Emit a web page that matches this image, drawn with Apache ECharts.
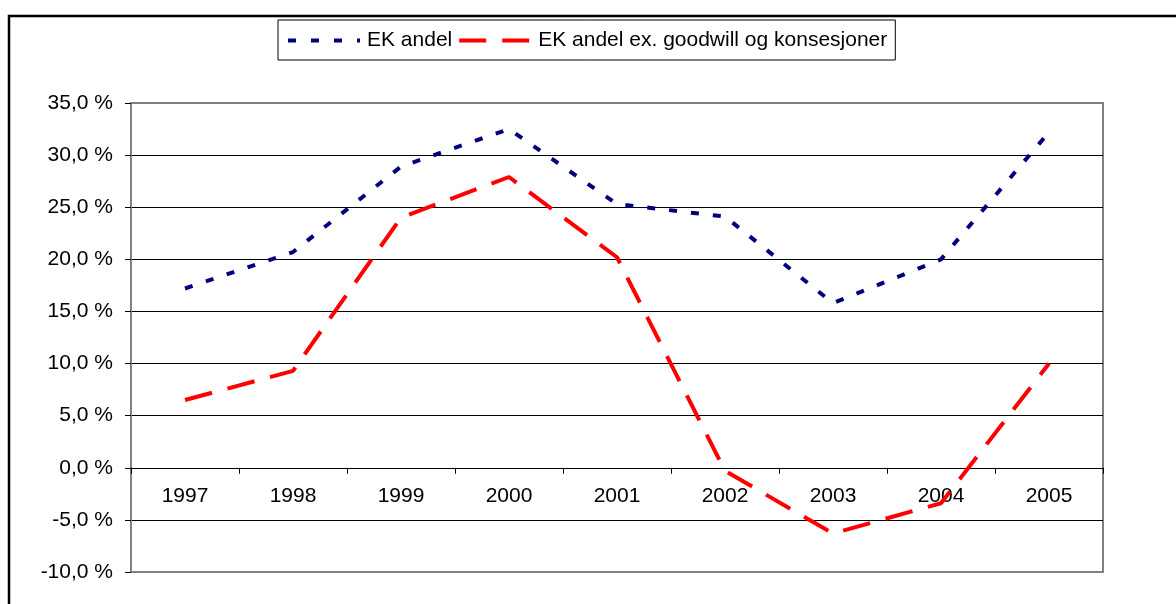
<!DOCTYPE html>
<html>
<head>
<meta charset="utf-8">
<script src="https://cdn.jsdelivr.net/npm/echarts@6/dist/echarts.min.js"></script>
<style>
  html, body { margin: 0; padding: 0; background: #fff; }
  #chart { width: 1176px; height: 604px; }
</style>
</head>
<body>
<div id="chart"></div>
<script>
// years on the x axis
const years = ['1997', '1998', '1999', '2000', '2001', '2002', '2003', '2004', '2005']
// equity share, percent
const ekAndel = [17.2, 20.7, 28.9, 32.5, 25.3, 24.1, 15.8, 20.0, 32.2]
// equity share excl. goodwill and concessions, percent
const ekAndelEx = [6.5, 9.3, 24.0, 27.9, 20.2, -0.3, -6.3, -3.4, 10.0]

const seriesNames = ['EK andel', 'EK andel ex. goodwill og konsesjoner']

const chart = echarts.init(document.getElementById('chart'))
const font = "'Liberation Sans', Arial, sans-serif"

const option = {
  animation: false,
  backgroundColor: '#fff',
  textStyle: { fontFamily: font, color: '#000' },
  graphic: [
    {
      type: 'rect',
      shape: { x: 9, y: 16, width: 1200, height: 620 },
      style: { fill: 'none', stroke: '#000', lineWidth: 2.5 },
      silent: true,
      z: -1
    }
  ],
  legend: {
    left: 278,
    top: 20,
    padding: [10, 8, 9, 8],
    itemGap: 5,
    itemWidth: 72,
    itemHeight: 21,
    borderColor: '#000',
    borderWidth: 1,
    itemStyle: { opacity: 0 },
    textStyle: { fontSize: 21, color: '#000', fontFamily: font, padding: [0, 0, 0, 2] },
    data: [
      { name: seriesNames[0], lineStyle: { width: 4, type: [8, 15] } },
      { name: seriesNames[1], lineStyle: { width: 4, type: [27, 16] } }
    ]
  },
  grid: {
    show: true,
    left: 131,
    right: 73,
    top: 103,
    bottom: 32,
    borderColor: '#808080',
    borderWidth: 2,
    containLabel: false
  },
  xAxis: {
    type: 'category',
    data: years,
    position: 'bottom',
    offset: -104.2,
    axisLine: { onZero: false, lineStyle: { color: '#000', width: 1 } },
    axisTick: { show: true, length: 6, lineStyle: { color: '#000' } },
    axisLabel: { fontSize: 21, color: '#000', margin: 18, fontFamily: font }
  },
  yAxis: {
    type: 'value',
    min: -10,
    max: 35,
    interval: 5,
    axisLine: { show: true, lineStyle: { color: '#808080', width: 2 } },
    axisTick: { show: true, length: 6, lineStyle: { color: '#000' } },
    axisLabel: {
      fontSize: 21,
      color: '#000',
      margin: 18,
      fontFamily: font,
      formatter: v => v.toFixed(1).replace('.', ',') + ' %'
    },
    splitLine: {
      lineStyle: {
        color: ['#808080', '#000', '#000', '#000', '#000', '#000', '#000', '#000', '#000', '#808080'],
        width: 1
      }
    }
  },
  series: [
    {
      name: seriesNames[0],
      type: 'line',
      data: ekAndel,
      symbol: 'none',
      color: '#000080',
      lineStyle: { color: '#000080', width: 4, type: [8, 14], cap: 'butt' }
    },
    {
      name: seriesNames[1],
      type: 'line',
      data: ekAndelEx,
      symbol: 'none',
      color: '#ff0000',
      lineStyle: { color: '#ff0000', width: 4, type: [28, 16], cap: 'butt' }
    }
  ]
}

chart.setOption(option)
</script>
</body>
</html>
